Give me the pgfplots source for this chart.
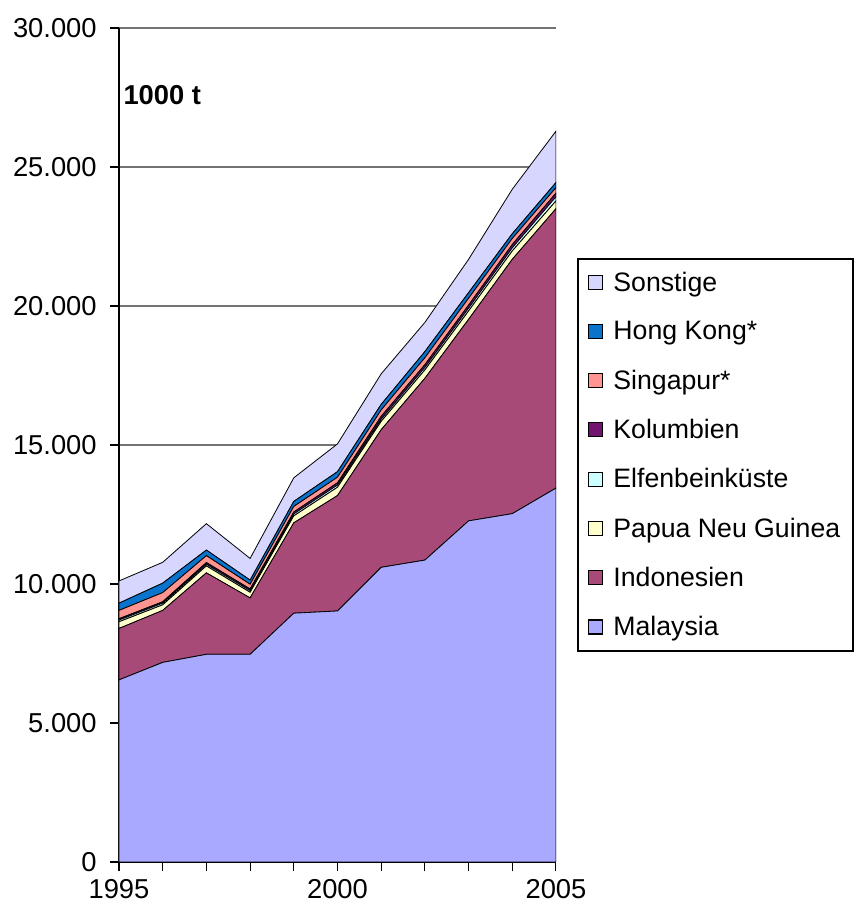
\documentclass[border=0pt]{standalone}
\usepackage{fontspec}
\setmainfont{Liberation Sans}
\usepackage{pgfplots}
\pgfplotsset{compat=1.18}
\definecolor{cmal}{HTML}{A9AAFF}
\definecolor{cind}{HTML}{A84A78}
\definecolor{cpng}{HTML}{FFFFCC}
\definecolor{celf}{HTML}{CCFFFF}
\definecolor{ckol}{HTML}{701470}
\definecolor{csin}{HTML}{FF9490}
\definecolor{chk}{HTML}{0A74CC}
\definecolor{cson}{HTML}{D6D6FF}
\begin{document}
\begin{tikzpicture}
\path[use as bounding box] (-89.25pt,-38.25pt) rectangle (550.5pt,646.5pt);
\begin{axis}[at={(0,0)}, anchor=south west, scale only axis,
  width=327.75pt, height=625.5pt,
  font=\fontsize{20.5}{24}\selectfont,
  xmin=1995, xmax=2005, ymin=0, ymax=30000,
  axis lines=left, axis line style={-, line width=1pt, black},
  stack plots=y,
  xtick={1995,...,2005}, xticklabels={1995,,,,,2000,,,,,2005},
  ytick={0,5000,...,30000}, scaled y ticks=false,
  tick align=outside, major tick length=6.75pt, tick style={black, line width=0.8pt},
  yticklabel style={xshift=-6.5pt}, xticklabel style={yshift=-3pt},
  ymajorgrids, grid style={black!55, line width=0.8pt},
  /pgf/number format/1000 sep={.}, /pgf/number format/assume math mode=true,
  reverse legend, legend cell align=left,
  legend image code/.code={\draw[#1, line width=0.9pt] (0pt,-5.25pt) rectangle (10.5pt,5.25pt); \path (16.5pt,0pt);},
  legend style={at={(1.048,0.7242)}, anchor=north west, draw=black, line width=1.2pt,
    font=\fontsize{20}{24}\selectfont, row sep=17pt, inner xsep=7.5pt, inner ysep=8pt},
  every axis plot/.append style={draw=black, line width=0.6pt},
]
\addplot[fill=cmal] coordinates {(1995,6550) (1996,7180) (1997,7470) (1998,7470) (1999,8950) (2000,9030) (2001,10600) (2002,10860) (2003,12270) (2004,12530) (2005,13450)} \closedcycle;
\addlegendentry{Malaysia}
\addplot[fill=cind] coordinates {(1995,1850) (1996,1870) (1997,2930) (1998,2030) (1999,3250) (2000,4150) (2001,4950) (2002,6540) (2003,7250) (2004,9150) (2005,10050)} \closedcycle;
\addlegendentry{Indonesien}
\addplot[fill=cpng] coordinates {(1995,240) (1996,200) (1997,250) (1998,200) (1999,250) (2000,300) (2001,300) (2002,300) (2003,300) (2004,300) (2005,280)} \closedcycle;
\addlegendentry{Papua Neu Guinea}
\addplot[fill=celf] coordinates {(1995,60) (1996,60) (1997,60) (1998,60) (1999,70) (2000,80) (2001,80) (2002,90) (2003,100) (2004,110) (2005,150)} \closedcycle;
\addlegendentry{Elfenbeinküste}
\addplot[fill=ckol] coordinates {(1995,50) (1996,50) (1997,60) (1998,60) (1999,70) (2000,80) (2001,100) (2002,100) (2003,110) (2004,120) (2005,130)} \closedcycle;
\addlegendentry{Kolumbien}
\addplot[fill=csin] coordinates {(1995,300) (1996,330) (1997,250) (1998,170) (1999,200) (2000,200) (2001,230) (2002,250) (2003,250) (2004,220) (2005,200)} \closedcycle;
\addlegendentry{Singapur*}
\addplot[fill=chk] coordinates {(1995,260) (1996,340) (1997,200) (1998,150) (1999,180) (2000,200) (2001,200) (2002,220) (2003,200) (2004,170) (2005,180)} \closedcycle;
\addlegendentry{Hong Kong*}
\addplot[fill=cson] coordinates {(1995,800) (1996,750) (1997,950) (1998,780) (1999,850) (2000,1000) (2001,1100) (2002,1050) (2003,1200) (2004,1600) (2005,1850)} \closedcycle;
\addlegendentry{Sonstige}
\node[anchor=west, inner sep=0pt, xshift=3.2pt, font=\bfseries\fontsize{20.5}{24}\selectfont] at (axis cs:1995,27600) {1000 t};
\end{axis}
\end{tikzpicture}
\end{document}
